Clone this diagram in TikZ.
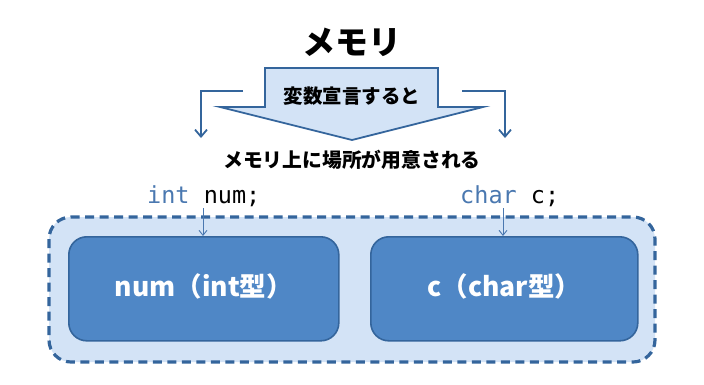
\documentclass[tikz,border=0pt]{standalone}
\usepackage{fontspec}
\setmainfont{Noto Sans CJK JP}
\newfontfamily\codefont{DejaVu Sans Mono}
\definecolor{edgeblue}{HTML}{34659C}
\definecolor{lightfill}{HTML}{D3E3F6}
\definecolor{boxfill}{HTML}{4F87C6}
\definecolor{kwblue}{HTML}{4A78B0}
\usetikzlibrary{arrows.meta}
\tikzset{
  outerbox/.style={draw=edgeblue, fill=lightfill, line width=3.2pt, dash pattern=on 9pt off 5.5pt, rounded corners=22pt},
  varbox/.style={draw=edgeblue, fill=boxfill, line width=1.6pt, rounded corners=18pt},
  sidearrow/.style={draw=edgeblue, line width=1.8pt, -{Straight Barb[length=7pt,width=12pt]}},
  smallarrow/.style={draw=kwblue, line width=0.9pt, -{Straight Barb[length=5pt,width=8pt]}},
}
\begin{document}
\begin{tikzpicture}[x=1pt,y=-1pt]
\useasboundingbox (0,0) rectangle (704,384);
% title
\node (title) at (352,42) {\fontsize{33}{36}\selectfont\bfseries メモリ};
% big arrow
\draw[draw=edgeblue, fill=lightfill, line width=1.8pt, line join=miter]
  (265,68) -- (438,68) -- (438,107) -- (483,107) -- (352,140) -- (220,107) -- (265,107) -- cycle;
\node (decl) at (352,96) {\fontsize{19.5}{22}\selectfont\bfseries 変数宣言すると};
% side arrows
\coordinate (l0) at (243,91);
\coordinate (l1) at (201,91);
\coordinate (l2) at (201,138);
\coordinate (r0) at (462,91);
\coordinate (r1) at (505,91);
\coordinate (r2) at (505,138);
\draw[sidearrow] (l0) -- (l1) -- (l2);
\draw[sidearrow] (r0) -- (r1) -- (r2);
\node (alloc) at (352,160) {\fontsize{19.8}{22}\selectfont\bfseries メモリ上に場所が用意される};
% outer memory region
\draw[outerbox] (49,217) rectangle (655,362);
\node[varbox, minimum width=270pt, minimum height=104pt, anchor=north west] (numbox) at (68,236) {};
\node[varbox, minimum width=267pt, minimum height=104pt, anchor=north west] (cbox) at (370,236) {};
\node[text=white] at ([yshift=2pt]numbox.center) {\fontsize{26.5}{30}\selectfont\bfseries num（int型）};
\node[text=white] at ([yshift=2pt]cbox.center) {\fontsize{26.5}{30}\selectfont\bfseries c（char型）};
% declarations
\node[anchor=base west, inner sep=0pt] (decl1) at (147,203) {\fontsize{23.5}{26}\selectfont\codefont\textcolor{kwblue}{int} num;};
\node[anchor=base west, inner sep=0pt] (decl2) at (460,203) {\fontsize{23.5}{26}\selectfont\codefont\textcolor{kwblue}{char} c;};
\coordinate (a1) at (203,208);
\coordinate (a2) at (503,208);
\draw[smallarrow] (a1) -- (numbox.north -| a1);
\draw[smallarrow] (a2) -- (cbox.north -| a2);
\end{tikzpicture}
\end{document}
